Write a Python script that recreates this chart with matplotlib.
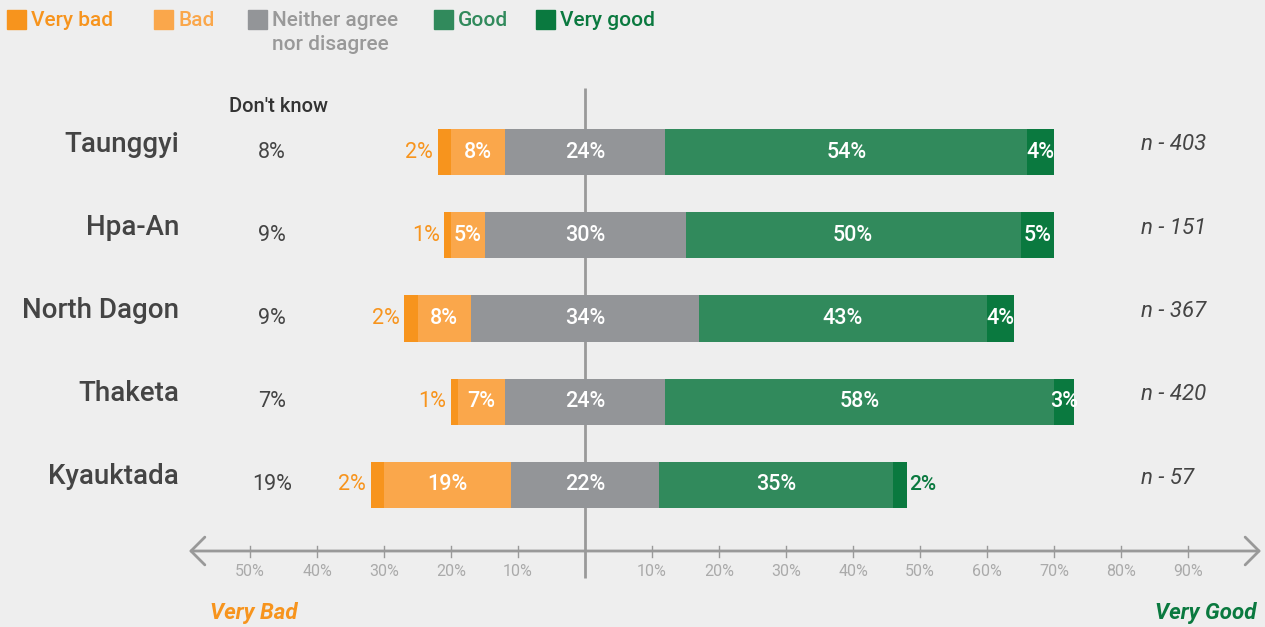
import matplotlib
matplotlib.use("Agg")
import matplotlib.pyplot as plt
import numpy as np
from matplotlib.patches import Rectangle

categories = ['Taunggyi', 'Hpa-An', 'North Dagon', 'Thaketa', 'Kyauktada']
very_bad = [2, 1, 2, 1, 2]
bad = [8, 5, 8, 7, 19]
neither = [24, 30, 34, 24, 22]
good = [54, 50, 43, 58, 35]
very_good = [4, 5, 4, 3, 2]
dont_know = [8, 9, 9, 7, 19]
n_resp = [403, 151, 367, 420, 57]
tick_left = [50, 40, 30, 20, 10]
tick_right = [10, 20, 30, 40, 50, 60, 70, 80, 90]
legend_labels = ['Very bad', 'Bad', 'Neither agree\nnor disagree', 'Good', 'Very good']

C_VB = '#F7941D'
C_B = '#FAA74B'
C_N = '#939598'
C_G = '#318A5C'
C_VG = '#0A793F'
BG = '#EEEEEE'
FONT = 'Roboto'
plt.rcParams['font.family'] = [FONT, 'DejaVu Sans']

W, H = 1265, 627
fig = plt.figure(figsize=(W / 100, H / 100), dpi=100, facecolor=BG)
ax = fig.add_axes([0, 0, 1, 1])
ax.set_facecolor(BG)
ax.axis('off')

PX0, PPU = 585, 6.7      # zero position, pixels per percent
ROW0, STEP = 152, 83.25  # first row pixel, row spacing
ax.set_xlim(-PX0 / PPU, (W - PX0) / PPU)
ax.set_ylim((H - ROW0) / STEP, -ROW0 / STEP)

def X(px):
    return (px - PX0) / PPU

def Y(py):
    return (py - ROW0) / STEP

vb = np.array(very_bad, float)
b = np.array(bad, float)
ne = np.array(neither, float)
g = np.array(good, float)
vg = np.array(very_good, float)
y = np.arange(len(categories))
bh = 0.553

ne_left = -ne / 2
b_left = ne_left - b
vb_left = b_left - vb
g_left = ne / 2
vg_left = g_left + g

# center line
ax.plot([0, 0], [Y(88), Y(578)], color='#999999', lw=2, zorder=1, solid_capstyle='butt')

ax.barh(y, vb, left=vb_left, height=bh, color=C_VB, zorder=2)
ax.barh(y, b, left=b_left, height=bh, color=C_B, zorder=2)
ax.barh(y, ne, left=ne_left, height=bh, color=C_N, zorder=2)
ax.barh(y, g, left=g_left, height=bh, color=C_G, zorder=2)
ax.barh(y, vg, left=vg_left, height=bh, color=C_VG, zorder=2)

fs_in = 15.5
for i in range(len(categories)):
    # very bad
    if vb[i] <= 2:
        ax.text(vb_left[i] - 0.7, y[i], f'{very_bad[i]}%', ha='right', va='center',
                color=C_VB, fontsize=15.5, zorder=3)
    else:
        ax.text(vb_left[i] + vb[i] / 2, y[i], f'{very_bad[i]}%', ha='center', va='center',
                color='white', fontsize=fs_in, zorder=3)
    for left, val, v in [(b_left, b, bad), (ne_left, ne, neither), (g_left, g, good)]:
        ax.text(left[i] + val[i] / 2, y[i], f'{v[i]}%', ha='center', va='center',
                color='white', fontsize=fs_in, fontweight='medium', zorder=3)
    if vg[i] <= 2:
        ax.text(vg_left[i] + vg[i] + 0.4, y[i], f'{very_good[i]}%', ha='left', va='center',
                color=C_VG, fontsize=15, fontweight='medium', zorder=3)
    else:
        ax.text(vg_left[i] + vg[i] / 2, y[i], f'{very_good[i]}%', ha='center', va='center',
                color='white', fontsize=fs_in, fontweight='medium', zorder=3)
    # row label
    ax.text(X(179), y[i] - 8 / STEP, categories[i], ha='right', va='center',
            color='#444444', fontsize=20, fontweight='medium')
    # don't know
    ax.text(X(272), y[i], f'{dont_know[i]}%', ha='center', va='center',
            color='#444444', fontsize=15.5)
    # n
    ax.text(X(1141), y[i] - 7 / STEP, f'n - {n_resp[i]}', ha='left', va='center',
            color='#444444', fontsize=16, style='italic')

ax.text(X(278), Y(107), "Don't know", ha='center', va='center', color='#333333',
        fontsize=14.5, fontweight='medium')

# axis
AY = Y(551)
ax.annotate('', xy=(X(1261), AY), xytext=(X(189), AY),
            arrowprops=dict(arrowstyle='<->,head_length=0.5,head_width=0.5',
                            color='#999999', lw=2, mutation_scale=20,
                            shrinkA=0, shrinkB=0))
for t in tick_left:
    ax.plot([-t, -t], [Y(546), Y(557)], color='#999999', lw=1)
    ax.text(-t, Y(572), f'{t}%', ha='center', va='center', color='#AAAAAA', fontsize=11.5)
for t in tick_right:
    ax.plot([t, t], [Y(546), Y(557)], color='#999999', lw=1)
    ax.text(t, Y(572), f'{t}%', ha='center', va='center', color='#AAAAAA', fontsize=11.5)

ax.text(X(210), Y(613), 'Very Bad', ha='left', va='center', color=C_VB,
        fontsize=16, fontweight='bold', style='italic')
ax.text(X(1256), Y(613), 'Very Good', ha='right', va='center', color=C_VG,
        fontsize=16, fontweight='bold', style='italic')

# legend
leg_x = [7, 154, 248, 434, 536]
leg_cols = [C_VB, C_B, C_N, C_G, C_VG]
leg_text_cols = [C_VB, C_B, '#999999', C_G, C_VG]
for lx, col, tcol, lab in zip(leg_x, leg_cols, leg_text_cols, legend_labels):
    fig.add_artist(Rectangle((lx / W, 1 - 29 / H), 19 / W, 19 / H,
                             transform=fig.transFigure, color=col))
    if '\n' in lab:
        l1, l2 = lab.split('\n')
        fig.text((lx + 24) / W, 1 - 20 / H, l1, ha='left', va='center',
                 color=tcol, fontsize=15, fontweight='medium')
        fig.text((lx + 24) / W, 1 - 44 / H, l2, ha='left', va='center',
                 color=tcol, fontsize=15, fontweight='medium')
    else:
        fig.text((lx + 24) / W, 1 - 20 / H, lab, ha='left', va='center',
                 color=tcol, fontsize=15, fontweight='medium')

fig.savefig('out.png', dpi=100, facecolor=BG)
